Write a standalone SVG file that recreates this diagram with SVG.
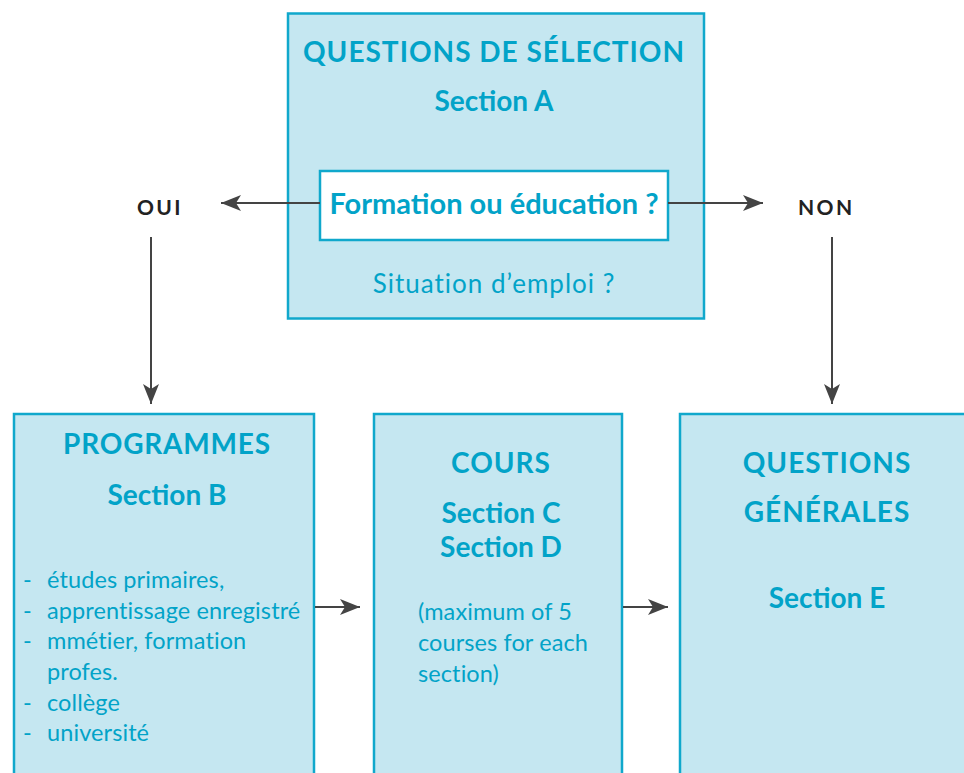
<svg xmlns="http://www.w3.org/2000/svg" width="964" height="773" viewBox="0 0 964 773">
<style>
.box{fill:#c5e7f1;stroke:#10a8cc;stroke-width:2.5}
.inner{fill:#ffffff;stroke:#10a8cc;stroke-width:2.5}
.t{font-family:Lato,"Open Sans","Liberation Sans",sans-serif;fill:#02a3c8}
.b{font-weight:bold;font-size:28px}
.cap{letter-spacing:1px}
.r{font-size:23.5px;letter-spacing:0.1px}
.lbl{font-family:Lato,"Open Sans","Liberation Sans",sans-serif;font-weight:bold;font-size:21px;fill:#222222;letter-spacing:2.4px}
.c{text-anchor:middle}
.conn{stroke:#444444;stroke-width:2;fill:none}
</style>
<defs>
<marker id="ah" markerWidth="22" markerHeight="18" refX="20" refY="8" orient="auto" markerUnits="userSpaceOnUse">
<path d="M0,0 L20,8 L0,16 L5,8 z" fill="#444444"/>
</marker>
</defs>
<g id="selection">
<rect class="box" x="288" y="13.5" width="416" height="305"/>
<text class="t b c cap" x="494" y="62">QUESTIONS DE SÉLECTION</text>
<text class="t b c" x="494" y="111">Section A</text>
<rect class="inner" x="320" y="171" width="348" height="69"/>
<text class="t b c" x="494" y="214" style="font-size:29px">Formation ou éducation ?</text>
<text class="t c" x="494" y="293" style="font-size:26px;letter-spacing:1px">Situation d’emploi ?</text>
</g>
<g id="oui"><text class="lbl" x="137" y="215">OUI</text></g>
<g id="non"><text class="lbl" x="798" y="215">NON</text></g>
<g id="programmes">
<rect class="box" x="14" y="414" width="300" height="380"/>
<text class="t b c" x="167" y="454" style="letter-spacing:0.8px">PROGRAMMES</text>
<text class="t b c" x="167" y="505">Section B</text>
<text class="t r" x="23" y="588">-</text><text class="t r" x="47" y="588">études primaires,</text>
<text class="t r" x="23" y="619">-</text><text class="t r" x="47" y="619">apprentissage enregistré</text>
<text class="t r" x="23" y="649">-</text><text class="t r" x="47" y="649">mmétier, formation</text>
<text class="t r" x="47" y="680">profes.</text>
<text class="t r" x="23" y="711">-</text><text class="t r" x="47" y="711">collège</text>
<text class="t r" x="23" y="741">-</text><text class="t r" x="47" y="741">université</text>
</g>
<g id="cours">
<rect class="box" x="374" y="414" width="248" height="380"/>
<text class="t b c cap" x="501" y="473">COURS</text>
<text class="t b c" x="501" y="523">Section C</text>
<text class="t b c" x="501" y="557">Section D</text>
<text class="t r" x="418" y="620">(maximum of 5</text>
<text class="t r" x="418" y="651">courses for each</text>
<text class="t r" x="418" y="682">section)</text>
</g>
<g id="generales">
<rect class="box" x="680" y="414" width="300" height="380"/>
<text class="t b c cap" x="827" y="473">QUESTIONS</text>
<text class="t b c cap" x="827" y="522">GÉNÉRALES</text>
<text class="t b c" x="827" y="608">Section E</text>
</g>
<g id="connectors">
<line class="conn" x1="320" y1="203" x2="221" y2="203" marker-end="url(#ah)"/>
<line class="conn" x1="668" y1="203" x2="763" y2="203" marker-end="url(#ah)"/>
<line class="conn" x1="151" y1="237" x2="151" y2="404" marker-end="url(#ah)"/>
<line class="conn" x1="832" y1="237" x2="832" y2="404" marker-end="url(#ah)"/>
<line class="conn" x1="315" y1="607" x2="360" y2="607" marker-end="url(#ah)"/>
<line class="conn" x1="623" y1="607" x2="668" y2="607" marker-end="url(#ah)"/>
</g>
</svg>
